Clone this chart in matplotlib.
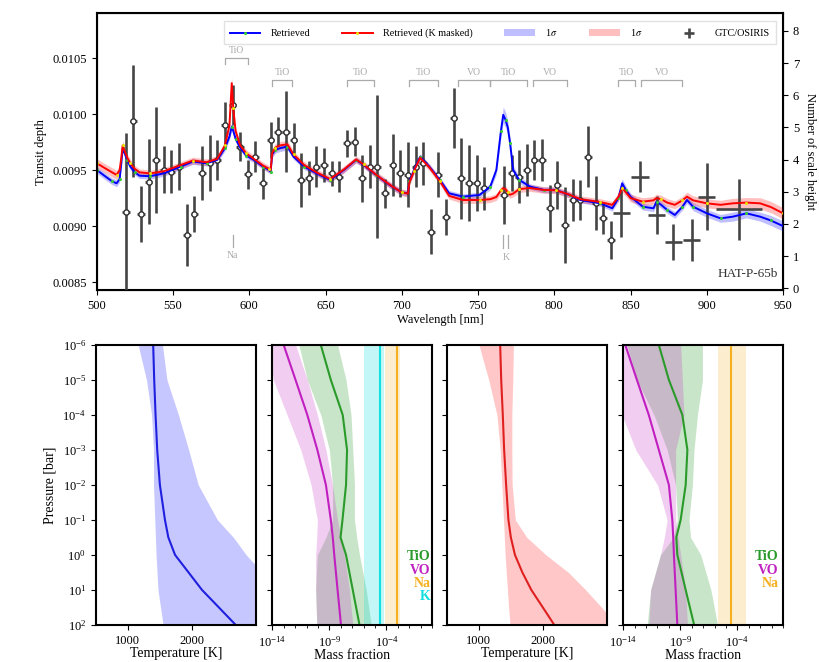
import numpy as np
import matplotlib
matplotlib.use("Agg")
import matplotlib.pyplot as plt
from matplotlib.patches import Patch
from matplotlib.ticker import LogLocator, NullLocator, NullFormatter, FormatStrFormatter
import matplotlib.transforms as mtransforms

plt.rcParams['font.family'] = ['Liberation Serif', 'DejaVu Serif']
plt.rcParams['mathtext.fontset'] = 'stix'
plt.rcParams['font.size'] = 9

# ---- transmission spectrum, GTC/OSIRIS (depth in ppm) ----
obs_wl = [519, 524, 529, 534, 539, 544, 549, 554, 559, 564,
          569, 574, 579, 584, 589, 594, 599, 604, 609, 614,
          619, 624, 629, 634, 639, 644, 649, 654, 659, 664,
          669, 674, 679, 684, 689, 694, 699, 704, 709, 714,
          719, 724, 729, 734, 739, 744, 749, 754, 767, 772,
          777, 782, 787, 792, 797, 802, 807, 812, 817, 822,
          827, 832, 837]
obs_ppm = [9129, 9939, 9108, 9397, 9591, 9501, 9486, 9531, 8920, 9108,
           9471, 9561, 9591, 9904, 10082, 9710, 9463, 9620, 9382, 9770,
           9844, 9844, 9770, 9412, 9427, 9531, 9546, 9471, 9442, 9740,
           9754, 9427, 9531, 9531, 9293, 9546, 9471, 9457, 9531, 9561,
           8950, 9457, 9084, 9963, 9427, 9382, 9382, 9337, 9278, 9471,
           9442, 9501, 9591, 9591, 9159, 9367, 9010, 9233, 9233, 9620,
           9203, 9069, 8875]
obs_err = [700, 500, 250, 380, 470, 210, 190, 210, 280, 160,
           240, 250, 180, 200, 180, 130, 130, 140, 140, 160,
           130, 360, 150, 240, 150, 180, 150, 110, 140, 120,
           130, 210, 190, 640, 130, 280, 210, 290, 180, 190,
           200, 200, 160, 270, 360, 340, 250, 190, 260, 160,
           240, 230, 180, 190, 210, 210, 340, 190, 180, 270,
           240, 140, 170]

# wider bins at the red end
bin_wl = [844, 856, 867, 878, 890, 900, 921]
bin_halfwidth = [5.5, 5.8, 5.5, 5.5, 5.8, 5.5, 15]
bin_ppm = [9114, 9442, 9099, 8860, 8875, 9263, 9150]
bin_err = [210, 140, 170, 160, 190, 300, 270]

# retrieved models (ppm)
model_wl = [500, 505, 510, 513, 515, 516, 517, 518, 520, 522,
            525, 528, 535, 544, 555, 563, 572, 579, 584, 587,
            588.5, 589.5, 591, 594, 598, 603, 609, 613, 614, 615,
            617, 620, 625, 629, 636, 644, 653, 662, 670, 675,
            683, 692, 700, 704, 705, 708, 712, 718, 725, 731,
            740, 751, 758, 762, 765, 766.5, 768, 769.5, 771, 773,
            777, 784, 793, 801, 810, 817, 830, 838, 842, 844.5,
            847, 850, 858, 865, 867, 870, 874, 879, 884, 887,
            891, 900, 909, 917, 926, 935, 942, 950]
blue_ppm = [9501, 9450, 9400, 9382, 9420, 9550, 9695, 9660, 9590, 9531,
            9480, 9450, 9445, 9471, 9531, 9576, 9561, 9591, 9695, 9800,
            9889, 9850, 9780, 9700, 9630, 9591, 9531, 9500, 9486, 9640,
            9680, 9695, 9710, 9620, 9531, 9471, 9412, 9501, 9591, 9546,
            9457, 9367, 9300, 9293, 9400, 9500, 9620, 9531, 9412, 9293,
            9263, 9278, 9353, 9501, 9850, 9993, 9950, 9880, 9740, 9501,
            9412, 9353, 9323, 9323, 9278, 9233, 9203, 9159, 9250, 9382,
            9320, 9263, 9173, 9159, 9218, 9190, 9144, 9099, 9173, 9233,
            9173, 9114, 9069, 9084, 9114, 9084, 9050, 9000]
blue_sig = [30, 30, 30, 30, 30, 30, 30, 30, 30, 30,
            25, 25, 25, 25, 25, 25, 25, 25, 25, 30,
            35, 35, 30, 25, 25, 25, 25, 25, 25, 30,
            30, 30, 30, 25, 25, 25, 25, 25, 25, 25,
            25, 25, 25, 25, 25, 25, 25, 25, 25, 25,
            25, 25, 30, 40, 60, 70, 70, 60, 50, 40,
            30, 25, 25, 25, 25, 25, 25, 25, 30, 40,
            35, 30, 30, 30, 30, 30, 30, 30, 30, 30,
            35, 35, 35, 40, 40, 40, 45, 45]
red_ppm = [9561, 9520, 9480, 9457, 9500, 9600, 9720, 9680, 9610, 9560,
           9510, 9480, 9470, 9490, 9545, 9585, 9570, 9600, 9720, 9900,
           10276, 10050, 9850, 9720, 9650, 9600, 9540, 9510, 9500, 9650,
           9700, 9720, 9730, 9640, 9545, 9480, 9420, 9505, 9595, 9550,
           9460, 9370, 9300, 9290, 9390, 9490, 9610, 9525, 9400, 9270,
           9233, 9233, 9240, 9260, 9320, 9338, 9330, 9300, 9280, 9290,
           9330, 9340, 9323, 9320, 9280, 9240, 9215, 9190, 9260, 9340,
           9300, 9250, 9218, 9230, 9250, 9240, 9210, 9190, 9230, 9263,
           9230, 9203, 9190, 9203, 9210, 9203, 9170, 9114]
red_sig = [40, 40, 40, 40, 40, 40, 40, 40, 35, 35,
           30, 30, 30, 30, 30, 30, 30, 30, 30, 35,
           50, 45, 35, 30, 30, 30, 30, 30, 30, 35,
           35, 35, 35, 30, 30, 30, 30, 30, 30, 30,
           30, 30, 30, 30, 30, 30, 30, 30, 30, 30,
           30, 30, 30, 30, 30, 30, 30, 30, 30, 30,
           30, 30, 30, 30, 30, 30, 30, 30, 35, 40,
           35, 35, 35, 35, 35, 35, 35, 35, 35, 40,
           40, 40, 40, 45, 45, 50, 50, 50]

# molecular band markers
band_labels = ['TiO', 'TiO', 'TiO', 'TiO', 'VO', 'TiO', 'VO', 'TiO', 'VO']
band_lo = [584, 615, 664, 705, 737, 758, 786, 842, 857]
band_hi = [599, 628, 682, 724, 758, 782, 808, 853, 884]

# ---- P-T profiles ----
tp_logp = [-6, -5, -4, -3, -2, -1, -0.5, 0, 0.5, 1, 1.5, 2]
T_blue = [1395, 1411, 1432, 1458, 1500, 1579, 1632, 1737, 1948, 2158, 2422, 2685]
T_blue_lo = [1160, 1290, 1370, 1400, 1400, 1420, 1430, 1440, 1455, 1470, 1510, 1550]
T_blue_hi = [1540, 1610, 1790, 1950, 2100, 2400, 2650, 2850, 3100, 3300, 3450, 3600]
T_red = [1333, 1349, 1374, 1395, 1426, 1462, 1500, 1564, 1680, 1820, 2000, 2179]
T_red_lo = [1000, 1154, 1282, 1333, 1359, 1385, 1398, 1410, 1428, 1446, 1465, 1487]
T_red_hi = [1540, 1530, 1515, 1515, 1520, 1570, 1750, 2050, 2400, 2670, 2920, 3150]

# ---- abundances (log10 mass fraction) ----
ab_logp = [-6, -5, -4, -3, -2, -1, -0.5, 0, 1, 2]
tio_b = [-9.75, -8.87, -7.83, -7.45, -7.54, -7.85, -8.02, -7.54, -6.95, -6.36]
tio_b_lo = [-11.67, -10.93, -9.75, -9.0, -8.72, -8.72, -9.3, -10.05, -10.2, -10.1]
tio_b_hi = [-8.28, -7.54, -7.1, -6.95, -6.8, -6.8, -6.6, -6.36, -5.77, -5.33]
vo_b = [-13.0, -11.96, -10.93, -10.05, -9.3, -8.87, -8.7, -8.57, -8.28, -7.98]
vo_b_lo = [-14.3, -13.9, -12.7, -11.5, -10.6, -10.05, -10.1, -10.2, -10.2, -10.1]
vo_b_hi = [-11.96, -10.93, -10.05, -9.3, -8.72, -8.28, -8.0, -7.69, -7.24, -6.95]
na_b, na_b_lo, na_b_hi = -3.11, -4.1, -2.8
k_b, k_b_lo, k_b_hi = -4.59, -5.95, -4.2

tio_r = [-10.88, -10.0, -8.82, -8.38, -8.53, -8.97, -9.35, -9.26, -8.53, -7.79]
tio_r_lo = [-13.68, -12.8, -11.3, -10.15, -9.41, -9.26, -9.6, -10.74, -11.6, -11.9]
tio_r_hi = [-7.06, -7.06, -7.5, -7.8, -7.94, -8.24, -8.1, -7.21, -6.32, -5.74]
vo_r = [-13.82, -12.8, -11.76, -10.88, -10.0, -9.7, -9.62, -9.56, -9.41, -9.26]
vo_r_lo = [-14.5, -14.5, -14.1, -12.9, -11.0, -10.15, -10.4, -10.74, -11.6, -11.76]
vo_r_hi = [-8.97, -8.82, -8.68, -9.41, -9.41, -9.41, -9.2, -8.97, -8.53, -8.38]
na_r, na_r_lo, na_r_hi = -4.56, -5.74, -3.24

c_tio = '#2a9a2a'
c_vo = '#c020c0'
c_na = '#f5b020'
c_k = '#10e0e0'

fig = plt.figure(figsize=(8.2, 6.62), dpi=100)

# ================= top panel =================
ax = fig.add_axes([0.118, 0.562, 0.837, 0.418])
mwl = np.array(model_wl)
b = np.array(blue_ppm) * 1e-6
bs = np.array(blue_sig) * 1e-6
r = np.array(red_ppm) * 1e-6
rs = np.array(red_sig) * 1e-6

ax.fill_between(mwl, b - bs, b + bs, color='blue', alpha=0.25, lw=0, zorder=3)
ax.fill_between(mwl, r - rs, r + rs, color='red', alpha=0.25, lw=0, zorder=3)
l1, = ax.plot(mwl, b, color='blue', lw=1.4, zorder=4, marker='o', ms=2.2,
              mfc='#33cc33', mec='none', markevery=2)
l2, = ax.plot(mwl, r, color='red', lw=1.4, zorder=4, marker='o', ms=2.2,
              mfc='#e8e000', mec='none', markevery=3)

eb = ax.errorbar(obs_wl, np.array(obs_ppm) * 1e-6, yerr=np.array(obs_err) * 1e-6,
                 xerr=2.5, fmt='o', ms=3.8, mfc='white', mec='#303030', mew=1.0,
                 ecolor='#454545', elinewidth=1.9, capsize=0, zorder=3.5)
eb2 = ax.errorbar(bin_wl, np.array(bin_ppm) * 1e-6, yerr=np.array(bin_err) * 1e-6,
                  xerr=bin_halfwidth, fmt='none', ecolor='#454545', elinewidth=1.9,
                  capsize=0, zorder=3.5)

ax.set_xlim(500, 950)
ax.set_ylim(0.00843, 0.0109)
ax.set_xticks(np.arange(500, 951, 50))
ax.set_yticks([0.0085, 0.0090, 0.0095, 0.0100, 0.0105])
ax.yaxis.set_major_formatter(FormatStrFormatter('%.4f'))
ax.set_xlabel('Wavelength [nm]', fontsize=9, labelpad=2)
ax.set_ylabel('Transit depth', fontsize=9)
ax.tick_params(labelsize=9)
for s in ax.spines.values():
    s.set_linewidth(1.5)

ax2 = ax.twinx()
ax2.set_ylim(-0.05, 8.55)
ax2.set_yticks(range(0, 9))
ax2.set_ylabel('Number of scale height', rotation=270, labelpad=12, fontsize=9)
ax2.tick_params(labelsize=9)

# band brackets
trans = mtransforms.blended_transform_factory(ax.transData, ax.transAxes)
gcol = '#aaaaaa'
for i, (lab, lo, hi) in enumerate(zip(band_labels, band_lo, band_hi)):
    yb = 0.838 if i == 0 else 0.758
    ax.plot([lo, lo, hi, hi], [yb - 0.02, yb, yb, yb - 0.02], color=gcol, lw=0.9,
            transform=trans, zorder=2)
    ax.text((lo + hi) / 2, yb + 0.012, lab, color=gcol, fontsize=7, ha='center',
            va='bottom', transform=trans)

# Na and K markers
ax.plot([589, 589], [0.155, 0.2], color=gcol, lw=0.9, transform=trans)
ax.text(589, 0.14, 'Na', color=gcol, fontsize=7, ha='center', va='top', transform=trans)
for kw in [766.5, 769.9]:
    ax.plot([kw, kw], [0.15, 0.2], color=gcol, lw=0.9, transform=trans)
ax.text(768.2, 0.135, 'K', color=gcol, fontsize=7, ha='center', va='top', transform=trans)

ax.text(0.992, 0.035, 'HAT-P-65b', transform=ax.transAxes, ha='right', va='bottom',
        fontsize=9.5, color='#333333')

handles = [l1, l2, Patch(color='blue', alpha=0.25, lw=0), Patch(color='red', alpha=0.25, lw=0), eb2]
labels = ['Retrieved', 'Retrieved (K masked)', r'1$\sigma$', r'1$\sigma$', 'GTC/OSIRIS']
leg = ax.legend(handles, labels, ncol=5, loc='upper right', bbox_to_anchor=(0.997, 0.99),
                fontsize=7.3, handlelength=3.0, columnspacing=3.15, handletextpad=1.0,
                frameon=True, framealpha=0.85, edgecolor='#dddddd', fancybox=False,
                borderpad=0.6)
leg.set_zorder(10)

# ================= bottom panels =================
lefts = [0.117, 0.332, 0.545, 0.760]
width = 0.195
bottom, height = 0.056, 0.423
axs = [fig.add_axes([l, bottom, width, height]) for l in lefts]

p_tp = 10.0 ** np.array(tp_logp)
p_ab = 10.0 ** np.array(ab_logp)

# P-T, blue retrieval
a = axs[0]
a.fill_betweenx(p_tp, T_blue_lo, T_blue_hi, color='blue', alpha=0.22, lw=0)
a.plot(T_blue, p_tp, color='#2020e0', lw=1.5)
# P-T, K masked
a = axs[2]
a.fill_betweenx(p_tp, T_red_lo, T_red_hi, color='red', alpha=0.22, lw=0)
a.plot(T_red, p_tp, color='#e02020', lw=1.5)


def mf(v):
    return 10.0 ** np.array(v)


# abundances, blue retrieval
a = axs[1]
a.fill_betweenx(p_ab, mf(tio_b_lo), mf(tio_b_hi), color=c_tio, alpha=0.25, lw=0)
a.fill_betweenx(p_ab, mf(vo_b_lo), mf(vo_b_hi), color=c_vo, alpha=0.22, lw=0)
a.axvspan(10 ** k_b_lo, 10 ** k_b_hi, color=c_k, alpha=0.25, lw=0)
a.axvspan(10 ** na_b_lo, 10 ** na_b_hi, color=c_na, alpha=0.22, lw=0)
a.plot(mf(tio_b), p_ab, color=c_tio, lw=1.5)
a.plot(mf(vo_b), p_ab, color=c_vo, lw=1.5)
a.axvline(10 ** k_b, color=c_k, lw=1.5)
a.axvline(10 ** na_b, color=c_na, lw=1.5)
for txt, col, yy in [('TiO', c_tio, 0.245), ('VO', c_vo, 0.195), ('Na', c_na, 0.148), ('K', c_k, 0.1)]:
    a.text(0.99, yy, txt, color=col, transform=a.transAxes, ha='right', va='center',
           fontsize=10, fontweight='bold')

# abundances, K masked
a = axs[3]
a.fill_betweenx(p_ab, mf(tio_r_lo), mf(tio_r_hi), color=c_tio, alpha=0.25, lw=0)
a.fill_betweenx(p_ab, mf(vo_r_lo), mf(vo_r_hi), color=c_vo, alpha=0.22, lw=0)
a.axvspan(10 ** na_r_lo, 10 ** na_r_hi, color=c_na, alpha=0.22, lw=0)
a.plot(mf(tio_r), p_ab, color=c_tio, lw=1.5)
a.plot(mf(vo_r), p_ab, color=c_vo, lw=1.5)
a.axvline(10 ** na_r, color=c_na, lw=1.5)
for txt, col, yy in [('TiO', c_tio, 0.245), ('VO', c_vo, 0.195), ('Na', c_na, 0.148)]:
    a.text(0.97, yy, txt, color=col, transform=a.transAxes, ha='right', va='center',
           fontsize=10, fontweight='bold')

for i, a in enumerate(axs):
    a.set_yscale('log')
    a.set_ylim(1e2, 1e-6)
    a.set_yticks([1e-6, 1e-5, 1e-4, 1e-3, 1e-2, 1e-1, 1e0, 1e1, 1e2])
    a.yaxis.set_minor_locator(NullLocator())
    a.tick_params(labelsize=9)
    for s in a.spines.values():
        s.set_linewidth(1.5)
    if i > 0:
        a.set_yticklabels([])
    if i in (0, 2):
        a.set_xlim(500, 3000)
        a.set_xticks([1000, 2000])
        a.set_xlabel('Temperature [K]', fontsize=10, labelpad=0)
    else:
        a.set_xscale('log')
        a.set_xlim(1e-14, 1)
        a.set_xticks([1e-14, 1e-9, 1e-4])
        a.xaxis.set_minor_locator(LogLocator(base=10, subs=(1.0,), numticks=30))
        a.xaxis.set_minor_formatter(NullFormatter())
        a.set_xlabel('Mass fraction', fontsize=10, labelpad=0)
axs[0].set_ylabel('Pressure [bar]', fontsize=10)

fig.savefig('out.png', dpi=100)
